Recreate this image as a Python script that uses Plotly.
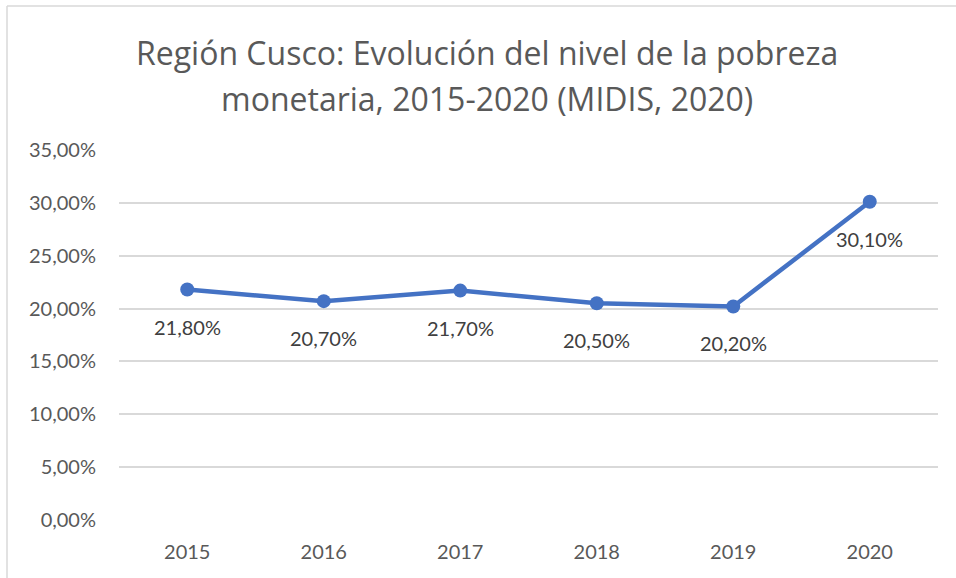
import plotly.graph_objects as go

years = ["2015", "2016", "2017", "2018", "2019", "2020"]
poverty = [21.8, 20.7, 21.7, 20.5, 20.2, 30.1]
labels = ["21,80%", "20,70%", "21,70%", "20,50%", "20,20%", "30,10%"]
tick_vals = [0, 5, 10, 15, 20, 25, 30, 35]
tick_text = ["0,00%", "5,00%", "10,00%", "15,00%", "20,00%", "25,00%", "30,00%", "35,00%"]
title_lines = ["Región Cusco: Evolución del nivel de la pobreza",
               "monetaria, 2015-2020 (MIDIS, 2020)"]

W, H = 956, 578
ML, MR, MT, MB = 119, 18, 150, 58
pw, ph = W - ML - MR, H - MT - MB

def px_x(p):
    return (p - ML) / pw

def px_y(p):
    return (H - MB - p) / ph

fig = go.Figure()
fig.add_trace(go.Scatter(
    x=years, y=poverty, mode="lines+markers",
    line=dict(color="#4472C4", width=4.5),
    marker=dict(color="#4472C4", size=14),
    hoverinfo="skip", showlegend=False,
))

for i, (y, t) in enumerate(zip(poverty, labels)):
    fig.add_annotation(x=i, y=y, text=t, showarrow=False, yshift=-37,
                       font=dict(family="Lato", size=20, color="#404040"))

title_y = [52, 98]
for line, yp in zip(title_lines, title_y):
    fig.add_annotation(xref="paper", yref="paper", x=px_x(487), y=px_y(yp),
                       text=line, showarrow=False, xanchor="center", yanchor="middle",
                       font=dict(family="Open Sans", size=32, color="#595959"))

# chart border (top and left visible)
fig.add_shape(type="line", xref="paper", yref="paper",
              x0=px_x(7), x1=px_x(7), y0=px_y(6), y1=px_y(H + 5),
              line=dict(color="#D9D9D9", width=1.5))
fig.add_shape(type="line", xref="paper", yref="paper",
              x0=px_x(7), x1=px_x(W + 5), y0=px_y(6), y1=px_y(6),
              line=dict(color="#D9D9D9", width=1.5))

fig.update_layout(
    width=W, height=H,
    margin=dict(l=ML, r=MR, t=MT, b=MB),
    paper_bgcolor="white", plot_bgcolor="white",
    font=dict(family="Lato", color="#595959"),
    xaxis=dict(type="category", range=[-0.5, 5.5], showgrid=False, zeroline=False,
               showline=False, ticks="", ticklabelstandoff=18,
               tickfont=dict(family="Lato", size=20, color="#595959")),
    yaxis=dict(range=[0, 35], tickvals=tick_vals, ticktext=tick_text,
               showgrid=True, gridcolor="#D9D9D9", gridwidth=1.6,
               zeroline=False, showline=False, ticks="", ticklabelstandoff=22,
               tickfont=dict(family="Lato", size=20, color="#595959")),
)

fig.write_html("out.html", config={"displayModeBar": False},
               post_script="document.body.style.margin='0';document.body.style.overflow='hidden';")
